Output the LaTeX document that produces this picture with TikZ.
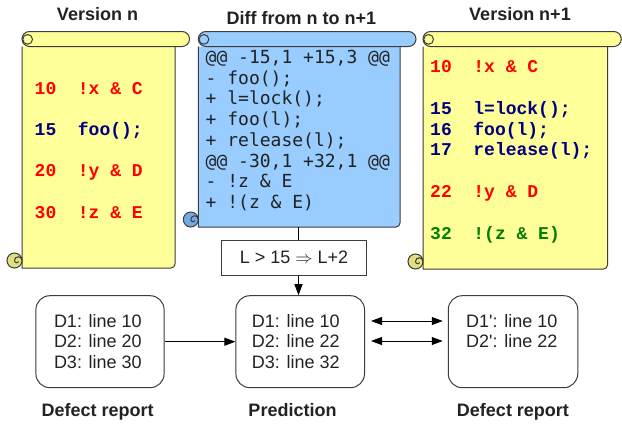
\documentclass[tikz,border=0pt]{standalone}
\usepackage{fontspec}
\setmainfont{Liberation Sans}
\newfontfamily\codefont{Liberation Mono}
\newfontfamily\difffont{DejaVu Sans Mono}
\usetikzlibrary{arrows.meta}
\definecolor{scrollY}{HTML}{FFFF99}
\definecolor{scrollYd}{HTML}{E0E080}
\definecolor{scrollB}{HTML}{99CCFF}
\definecolor{scrollBd}{HTML}{74AAE2}
\definecolor{outl}{HTML}{3C3C3C}
\definecolor{codered}{HTML}{FF0000}
\definecolor{codenavy}{HTML}{000080}
\definecolor{codegreen}{HTML}{008000}
\definecolor{txt}{HTML}{222222}
\newcommand\myscroll[8]{%
  \pgfmathsetmacro\rr{(#5-#4)/2}%
  \filldraw[draw=outl, line width=1pt, fill=#7] (#1,-#5) -- (#1,-#6) -- ({#2-4},-#6) arc[start angle=270,end angle=360,radius=4] -- (#2,-#5);
  \filldraw[draw=outl, line width=1pt, fill=#7] ({#1+\rr},-#4) -- ({#3-\rr},-#4) arc[start angle=90,end angle=-90,radius=\rr] -- ({#1+\rr},-#5) arc[start angle=270,end angle=90,radius=\rr] -- cycle;
  \draw[outl, line width=1pt] ({#1+0.75*\rr},{-#4-1.05*\rr}) circle[radius=0.65*\rr];
  \filldraw[draw=outl, line width=1pt, fill=#8] ({#1-\rr},{-#6+\rr}) circle[radius=\rr];
  \draw[outl, line width=1pt] (#1,{-#6+\rr}) arc[start angle=0,end angle=180,radius=0.5*\rr] arc[start angle=180,end angle=330,radius=0.3*\rr];
}
\begin{document}
\begin{tikzpicture}[x=1pt,y=1pt,
  title/.style={font=\fontsize{18}{20}\selectfont\bfseries, text=txt, anchor=base, inner sep=0pt},
  codeln/.style={font=\codefont\bfseries\fontsize{18}{20}\selectfont, anchor=base west, inner sep=0pt},
  diffln/.style={font=\difffont\fontsize{18}{20}\selectfont, text=txt, anchor=base west, inner sep=0pt},
  boxtxt/.style={font=\fontsize{18}{20}\selectfont, text=txt, anchor=base west, inner sep=0pt},
  dbox/.style={draw=outl, line width=1pt, rounded corners=14pt, minimum height=92pt, inner sep=0pt},
  rulebox/.style={draw=outl, line width=0.9pt, minimum width=145.7pt, minimum height=35.7pt, inner sep=0pt, font=\fontsize{18}{20}\selectfont, text=txt},
  conn/.style={draw=black, line width=0.9pt},
  arr/.style={conn, -{Triangle[length=11pt,width=8pt]}},
  dbl/.style={conn, {Triangle[length=11pt,width=8pt]}-{Triangle[length=11pt,width=8pt]}}
]
\useasboundingbox (0,0) rectangle (622,-426);

% scrolls
\myscroll{22}{175}{189.5}{31.5}{46.5}{268}{scrollY}{scrollYd}
\myscroll{198.3}{400}{416}{31.5}{46.5}{227}{scrollB}{scrollBd}
\myscroll{423}{607.5}{621.3}{31.5}{46.5}{269}{scrollY}{scrollYd}

% titles
\node[title] (t1) at (97.5,-20.7) {Version n};
\node[title] (t2) at (301.3,-24) {Diff from n to n+1};
\node[title] (t3) at (520,-20.7) {Version n+1};

% version n
\node[codeln, text=codered]  (a1) at (34.5,-94)    {10\ \ !x \& C};
\node[codeln, text=codenavy] (a2) at (34.5,-135.7) {15\ \ foo();};
\node[codeln, text=codered]  (a3) at (34.5,-176.7) {20\ \ !y \& D};
\node[codeln, text=codered]  (a4) at (34.5,-218.3) {30\ \ !z \& E};

% diff
\node[diffln] (d1) at (205.5,-63.5)  {@@ -15,1 +15,3 @@};
\node[diffln] (d2) at (205.5,-84.2)  {- foo();};
\node[diffln] (d3) at (205.5,-104.9) {+ l=lock();};
\node[diffln] (d4) at (205.5,-125.6) {+ foo(l);};
\node[diffln] (d5) at (205.5,-146.3) {+ release(l);};
\node[diffln] (d6) at (205.5,-167.0) {@@ -30,1 +32,1 @@};
\node[diffln] (d7) at (205.5,-187.7) {- !z \& E};
\node[diffln] (d8) at (205.5,-208.4) {+ !(z \& E)};

% version n+1
\node[codeln, text=codered]   (b1) at (430,-72.7) {10\ \ !x \& C};
\node[codeln, text=codenavy]  (b2) at (430,-114)  {15\ \ l=lock();};
\node[codeln, text=codenavy]  (b3) at (430,-135)  {16\ \ foo(l);};
\node[codeln, text=codenavy]  (b4) at (430,-155.7) {17\ \ release(l);};
\node[codeln, text=codered]   (b5) at (430,-197.3) {22\ \ !y \& D};
\node[codeln, text=codegreen] (b6) at (430,-239)  {32\ \ !(z \& E)};

% rule
\coordinate (dstart) at (298.5,-227);
\node[rulebox] (rule) at (294,-257.8) {L > 15 $\Rightarrow$ L+2};

% bottom boxes
\node[dbox, minimum width=128.2pt] (drn)  at (100,-341.7) {};
\node[dbox, minimum width=128.6pt] (pred) at (300.2,-341.7) {};
\node[dbox, minimum width=129.5pt] (drn2) at (513,-341.7) {};

\node[boxtxt] (x1) at (53.8,-327.7) {D1: line 10};
\node[boxtxt] (x2) at (53.8,-347.7) {D2: line 20};
\node[boxtxt] (x3) at (53.8,-368)   {D3: line 30};
\node[boxtxt] (y1) at (251.7,-327.7) {D1: line 10};
\node[boxtxt] (y2) at (251.7,-347.7) {D2: line 22};
\node[boxtxt] (y3) at (251.7,-368)   {D3: line 32};
\node[boxtxt] (z1) at (466,-327.7) {D1\textquotesingle: line 10};
\node[boxtxt] (z2) at (466,-347.7) {D2\textquotesingle: line 22};

\node[title] (l1) at (97.6,-416)  {Defect report};
\node[title] (l2) at (292.5,-416) {Prediction};
\node[title] (l3) at (513,-416)   {Defect report};

% connectors
\draw[conn] (dstart) -- (dstart |- rule.north);
\draw[arr] (rule.south -| dstart) -- (dstart |- pred.north);
\draw[arr] (drn.east) -- (pred.west);
\draw[dbl, shorten <=6pt, shorten >=5pt] ([yshift=20.7pt]pred.east) -- ([yshift=20.7pt]drn2.west);
\draw[dbl, shorten <=6pt, shorten >=5pt] ([yshift=0.7pt]pred.east) -- ([yshift=0.7pt]drn2.west);
\end{tikzpicture}
\end{document}
